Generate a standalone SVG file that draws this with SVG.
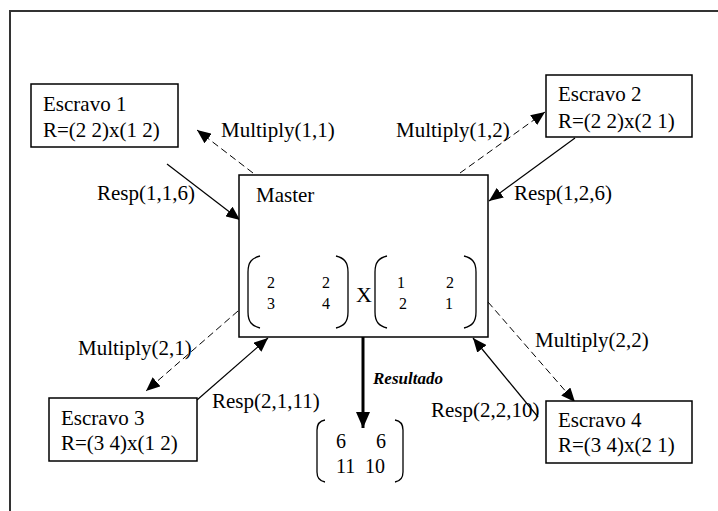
<svg xmlns="http://www.w3.org/2000/svg" width="718" height="511" viewBox="0 0 718 511" font-family="'Liberation Serif', 'Times New Roman', serif">
<style>
text{font-family:'Liberation Serif','Times New Roman',serif;fill:#000}
.t{font-size:21px}
.m{font-size:16px}
.r{font-size:20px}
.box{fill:#fff;stroke:#000;stroke-width:1.5}
.par{fill:none;stroke:#000;stroke-width:1.3}
.dash{fill:none;stroke:#000;stroke-width:1;stroke-dasharray:7,4;marker-end:url(#ah)}
.sol{fill:none;stroke:#000;stroke-width:1.2;marker-end:url(#ah)}
</style>
<defs>
<marker id="ah" markerUnits="userSpaceOnUse" markerWidth="14" markerHeight="12" refX="14" refY="6" orient="auto">
<path d="M0,0 L14,6 L0,12 z" fill="#000"/>
</marker>
<marker id="ahb" markerUnits="userSpaceOnUse" markerWidth="16" markerHeight="14" refX="16" refY="7" orient="auto">
<path d="M0,0 L16,7 L0,14 z" fill="#000"/>
</marker>
</defs>
<rect width="718" height="511" fill="#fff"/>
<rect id="frame" x="10" y="11" width="720" height="520" fill="none" stroke="#333" stroke-width="2"/>

<g id="connectors">
<line class="dash" x1="253" y1="173" x2="197" y2="130"/>
<line class="sol" x1="167" y1="164" x2="240" y2="220"/>
<line class="dash" x1="460" y1="173" x2="545" y2="112"/>
<line class="sol" x1="575" y1="138" x2="489" y2="201"/>
<line class="dash" x1="238" y1="311" x2="146" y2="391"/>
<line class="sol" x1="197" y1="400" x2="268" y2="338"/>
<line class="dash" x1="488" y1="302" x2="575" y2="402"/>
<line class="sol" x1="538" y1="417" x2="473" y2="338"/>
<line x1="363" y1="337" x2="363" y2="428" stroke="#000" stroke-width="3" marker-end="url(#ahb)"/>
<text class="t" x="221" y="137">Multiply(1,1)</text>
<text class="t" x="97" y="200">Resp(1,1,6)</text>
<text class="t" x="396" y="137">Multiply(1,2)</text>
<text class="t" x="514" y="200">Resp(1,2,6)</text>
<text class="t" x="78" y="355">Multiply(2,1)</text>
<text class="t" x="212" y="408">Resp(2,1,11)</text>
<text class="t" x="535" y="347">Multiply(2,2)</text>
<text class="t" x="431" y="417">Resp(2,2,10)</text>
<text x="373" y="384" font-size="17" font-weight="bold" font-style="italic">Resultado</text>
</g>

<g id="escravo1">
<rect class="box" x="31" y="84" width="147" height="63"/>
<text class="t" x="43" y="111">Escravo 1</text>
<text class="t" x="43" y="137">R=(2 2)x(1 2)</text>
</g>
<g id="escravo2">
<rect class="box" x="546" y="75" width="146" height="62"/>
<text class="t" x="558" y="101">Escravo 2</text>
<text class="t" x="558" y="128">R=(2 2)x(2 1)</text>
</g>
<g id="escravo3">
<rect class="box" x="49" y="398" width="148" height="63"/>
<text class="t" x="61" y="425">Escravo 3</text>
<text class="t" x="61" y="450">R=(3 4)x(1 2)</text>
</g>
<g id="escravo4">
<rect class="box" x="546" y="401" width="146" height="62"/>
<text class="t" x="558" y="427">Escravo 4</text>
<text class="t" x="558" y="452">R=(3 4)x(2 1)</text>
</g>

<g id="master">
<rect class="box" x="239" y="175" width="249" height="162"/>
<text class="t" x="256" y="202">Master</text>
<path class="par" d="M260,256 C252,258 248,262 248,272 L248,312 C248,322 252,326 260,328"/>
<path class="par" d="M336,256 C344,258 348,262 348,272 L348,312 C348,322 344,326 336,328"/>
<text class="m" x="267" y="288">2</text>
<text class="m" x="322" y="288">2</text>
<text class="m" x="267" y="309">3</text>
<text class="m" x="322" y="309">4</text>
<text x="356" y="302" font-size="22">X</text>
<path class="par" d="M387,256 C379,258 375,262 375,272 L375,312 C375,322 379,326 387,328"/>
<path class="par" d="M464,256 C472,258 476,262 476,272 L476,312 C476,322 472,326 464,328"/>
<text class="m" x="397" y="288">1</text>
<text class="m" x="446" y="288">2</text>
<text class="m" x="399" y="309">2</text>
<text class="m" x="445" y="309">1</text>
</g>

<g id="resultado">
<path class="par" d="M325,420 C319,421 317,424 317,430 L317,472 C317,478 319,481 325,482"/>
<path class="par" d="M395,420 C401,421 403,424 403,430 L403,472 C403,478 401,481 395,482"/>
<text class="r" x="336" y="448">6</text>
<text class="r" x="376" y="448">6</text>
<text class="r" x="336" y="473">11</text>
<text class="r" x="365" y="473">10</text>
</g>
</svg>
